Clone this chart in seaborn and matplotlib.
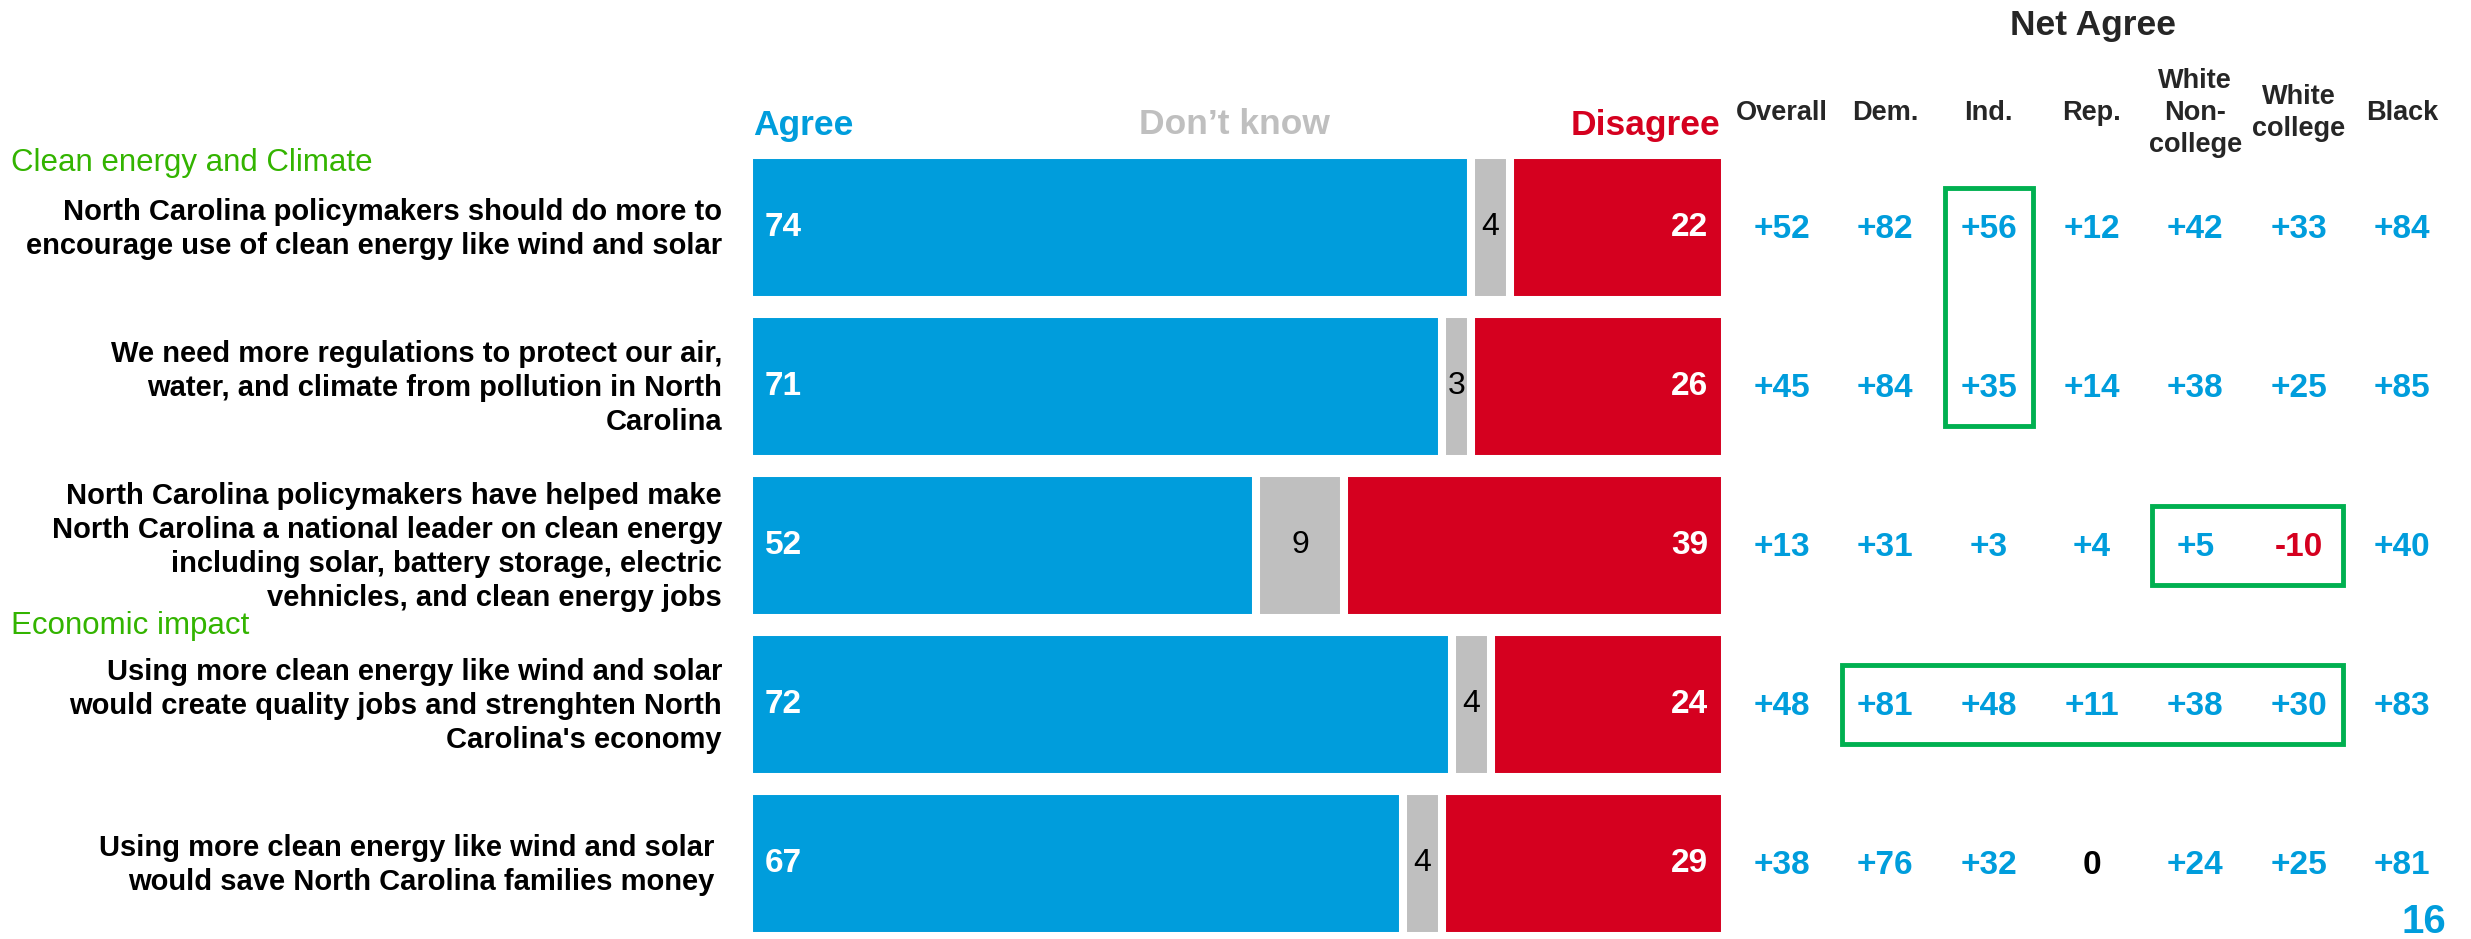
import numpy as np
import pandas as pd
import seaborn as sns
import matplotlib.pyplot as plt
from matplotlib.patches import Rectangle
from matplotlib.transforms import blended_transform_factory

# survey statements (rows, top to bottom)
statements = [
    "North Carolina policymakers should do more to\nencourage use of clean energy like wind and solar",
    "We need more regulations to protect our air,\nwater, and climate from pollution in North\nCarolina",
    "North Carolina policymakers have helped make\nNorth Carolina a national leader on clean energy\nincluding solar, battery storage, electric\nvehnicles, and clean energy jobs",
    "Using more clean energy like wind and solar\nwould create quality jobs and strenghten North\nCarolina's economy",
    "Using more clean energy like wind and solar\nwould save North Carolina families money",
]
agree = [74, 71, 52, 72, 67]
dont_know = [4, 3, 9, 4, 4]
disagree = [22, 26, 39, 24, 29]

# net agree by group
groups = ["Overall", "Dem.", "Ind.", "Rep.", "White\nNon-\ncollege", "White\ncollege", "Black"]
net_overall = [52, 45, 13, 48, 38]
net_dem = [82, 84, 31, 81, 76]
net_ind = [56, 35, 3, 48, 32]
net_rep = [12, 14, 4, 11, 0]
net_white_noncollege = [42, 38, 5, 38, 24]
net_white_college = [33, 25, -10, 30, 25]
net_black = [84, 85, 40, 83, 81]

sections = ["Clean energy and Climate", "Economic impact"]
# highlighted cells: (first col, last col, first row, last row)
highlights = [(2, 2, 0, 1), (4, 5, 2, 2), (1, 5, 3, 3)]
page_number = "16"

BLUE = "#009DDC"
RED = "#D5001F"
GREY = "#BFBFBF"
GREEN_TXT = "#33B400"
GREEN_BOX = "#00B050"

sns.set_theme(style="white")
plt.rcParams["font.family"] = ["Liberation Sans", "DejaVu Sans"]

W, H = 2471, 939
def fx(px):
    return px / W
def fy(py):
    return 1 - py / H

fig = plt.figure(figsize=(W / 100, H / 100), dpi=100)

df = pd.DataFrame({"statement": statements, "agree": agree,
                   "dont_know": dont_know, "disagree": disagree})
df["agree_dk"] = df["agree"] + df["dont_know"]
df["total"] = df["agree_dk"] + df["disagree"]

# stacked bars: draw cumulative totals, largest first
ax = fig.add_axes([fx(749), 0, 975.7 / W, 791 / H])
kw = dict(edgecolor="white", linewidth=5.8, saturation=1, width=0.906, errorbar=None, ax=ax)
sns.barplot(data=df, x="total", y="statement", color=RED, **kw)
sns.barplot(data=df, x="agree_dk", y="statement", color=GREY, **kw)
sns.barplot(data=df, x="agree", y="statement", color=BLUE, **kw)
ax.set_xlim(0, 100)
ax.set_ylim(4.475, -0.5)
ax.set_xlabel("")
ax.set_ylabel("")
ax.set_xticks([])
ax.set_yticks([])
for s in ax.spines.values():
    s.set_visible(False)

# statement labels, right aligned next to the bars
lab_tr = blended_transform_factory(fig.transFigure, ax.transData)
for i, st in enumerate(statements):
    right = 714 if i == len(statements) - 1 else 722
    ax.text(fx(right), i + 0.01, st, transform=lab_tr, fontsize=21, fontweight="bold",
            color="black", ha="right", va="center", multialignment="right", linespacing=1.27)

for i, row in df.iterrows():
    ax.text(1.6, i, str(row["agree"]), color="white", fontsize=24, fontweight="bold",
            ha="left", va="center")
    ax.text(row["agree"] + row["dont_know"] / 2, i, str(row["dont_know"]), color="black",
            fontsize=23, ha="center", va="center")
    ax.text(row["total"] - 1.7, i, str(row["disagree"]), color="white", fontsize=24,
            fontweight="bold", ha="right", va="center")

# headers above bars
fig.text(fx(753), fy(125), "Agree", color=BLUE, fontsize=25.5, fontweight="bold", ha="left", va="center")
fig.text(fx(1234), fy(125), "Don\u2019t know", color=GREY, fontsize=25.5, fontweight="bold", ha="center", va="center")
fig.text(fx(1720), fy(125), "Disagree", color=RED, fontsize=25.5, fontweight="bold", ha="right", va="center")

# section labels
fig.text(fx(11), fy(163), sections[0], color=GREEN_TXT, fontsize=22.5, ha="left", va="center")
fig.text(fx(11), fy(626), sections[1], color=GREEN_TXT, fontsize=22.5, ha="left", va="center")

# net agree table
net = [net_overall, net_dem, net_ind, net_rep, net_white_noncollege, net_white_college, net_black]
ax2 = fig.add_axes([fx(1720), 0, 751 / W, 791 / H])
ax2.set_xlim(-0.6, 6.668)
ax2.set_ylim(4.475, -0.5)
ax2.axis("off")
ax2.text(3.01, -1.27, "Net Agree", fontsize=25.5, fontweight="bold", ha="center", va="center")
for j, (g, vals) in enumerate(zip(groups, net)):
    ax2.text(j, -0.72, g, fontsize=19.5, fontweight="bold", ha="center", va="center",
             multialignment="center", linespacing=1.3)
    for i, v in enumerate(vals):
        col = BLUE if v > 0 else (RED if v < 0 else "black")
        label = f"+{v}" if v > 0 else str(v)
        ax2.text(j, i + 0.015, label, color=col, fontsize=24, fontweight="bold", ha="center", va="center")

for c0, c1, r0, r1 in highlights:
    ax2.add_patch(Rectangle((c0 - 0.42, r0 - 0.25), (c1 - c0) + 0.85, (r1 - r0) + 0.5,
                            fill=False, edgecolor=GREEN_BOX, linewidth=3.5, clip_on=False))

fig.text(fx(2424), fy(922), page_number, color=BLUE, fontsize=29, fontweight="bold", ha="center", va="center")

fig.savefig("out.png", dpi=100)
